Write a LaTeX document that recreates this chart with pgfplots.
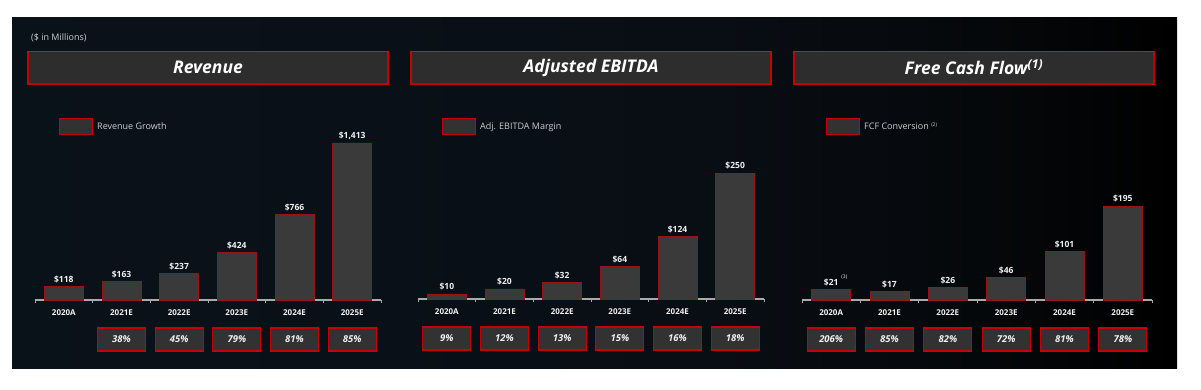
\documentclass[border=0pt]{standalone}
\usepackage{pgfplots}
\pgfplotsset{compat=1.18}
\usepackage{fontspec}
\setmainfont{Open Sans}
\definecolor{barfill}{RGB}{58,58,58}
\definecolor{barred}{RGB}{150,20,20}
\definecolor{boxred}{RGB}{200,0,0}
\definecolor{boxfill}{RGB}{50,50,50}
\definecolor{titlefill}{RGB}{45,45,45}
\definecolor{axisgray}{RGB}{170,170,170}
\definecolor{txt}{RGB}{240,240,240}
\definecolor{legtxt}{RGB}{205,205,205}
\pgfdeclarehorizontalshading{bgshade}{100bp}{rgb(0bp)=(0.04,0.07,0.1); rgb(25bp)=(0.04,0.07,0.1); rgb(55bp)=(0.035,0.055,0.08); rgb(67bp)=(0.02,0.03,0.04); rgb(75bp)=(0,0,0); rgb(100bp)=(0,0,0)}
\pgfplotsset{
  panel/.style={
    scale only axis, anchor=south west,
    xmin=-0.5, xmax=5.5, ymin=0,
    axis x line=bottom, axis y line=none,
    axis line style={axisgray, line width=1.2pt, -},
    xtick={0,...,5},
    xticklabels={2020A,2021E,2022E,2023E,2024E,2025E},
    minor xtick={-0.5,0.5,...,5.5},
    major tick length=0pt, minor tick length=3pt, tick align=outside,
    minor x tick style={axisgray, line width=1pt},
    xticklabel style={font=\bfseries\fontsize{8}{9}\selectfont, text=txt, anchor=center, yshift=-13pt},
    clip=false,
    legend style={at={(axis description cs:0,0)}, anchor=west, xshift=24pt,
      draw=none, fill=none, text=legtxt, font=\fontsize{9}{11}\selectfont,
      inner sep=0pt, column sep=2pt},
    legend cell align=left,
    legend image code/.code={\draw[fill=boxfill, draw=boxred, line width=1pt] (0pt,-7.5pt) rectangle (33pt,7.5pt);},
  },
  bars/.style={ybar, bar width=39pt, fill=barfill, draw=barred, line width=0.8pt,
    nodes near coords, point meta=explicit symbolic, forget plot,
    nodes near coords style={font=\bfseries\fontsize{8.5}{10}\selectfont, text=txt}},
  pct/.style={draw=none, mark=none, nodes near coords, point meta=explicit symbolic,
    nodes near coords style={anchor=center, yshift=-39.5pt, draw=boxred, fill=boxfill,
      line width=1.2pt, minimum width=48pt, minimum height=23pt, inner sep=0pt,
      font=\bfseries\itshape\fontsize{9.5}{11}\selectfont, text=txt}},
}
\begin{document}
\begin{tikzpicture}[x=1pt,y=1pt]
\fill[white] (0,0) rectangle (1201,389);
\shade[shading=bgshade] (12,21) rectangle (1177,371);
\node[anchor=west, inner sep=0pt, font=\fontsize{9}{11}\selectfont, text=legtxt] at (31,351) {(\$ in Millions)};
% title boxes
\foreach \cx/\ttl in {208/{Revenue}, 591/{Adjusted EBITDA}, 974/{Free Cash Flow\textsuperscript{(1)}}}{
  \fill[titlefill] (\cx-180,305) rectangle (\cx+180,338);
  \draw[boxred, line width=1.1pt] (\cx-180,338) -- (\cx-180,305) -- (\cx+180,305) -- (\cx+180,338);
  \draw[gray!60!black, line width=0.8pt] (\cx-180,338) -- (\cx+180,338);
  \node[text=white, font=\bfseries\itshape\fontsize{17.5}{19}\selectfont] at (\cx,321.5) {\ttl};
}
% Revenue
\begin{axis}[panel, at={(35pt,89pt)}, width=346pt, height=157pt, ymax=1413,
  legend style={yshift=173.5pt}]
\addplot[bars] coordinates {(0,118) [\$118] (1,163) [\$163] (2,237) [\$237] (3,424) [\$424] (4,766) [\$766] (5,1413) [\$1,413]};
\addplot[pct] coordinates {(1,0) [38\%] (2,0) [45\%] (3,0) [79\%] (4,0) [81\%] (5,0) [85\%]};
\addlegendentry{Revenue Growth}
\end{axis}
% Adjusted EBITDA
\begin{axis}[panel, at={(418pt,90pt)}, width=346pt, height=126pt, ymax=250,
  legend style={yshift=172.5pt}]
\addplot[bars] coordinates {(0,10) [\$10] (1,20) [\$20] (2,32) [\$32] (3,64) [\$64] (4,124) [\$124] (5,250) [\$250]};
\addplot[pct] coordinates {(0,0) [9\%] (1,0) [12\%] (2,0) [13\%] (3,0) [15\%] (4,0) [16\%] (5,0) [18\%]};
\addlegendentry{Adj. EBITDA Margin}
\end{axis}
% Free Cash Flow
\begin{axis}[panel, at={(802pt,89pt)}, width=350pt, height=94pt, ymax=195,
  legend style={yshift=173.5pt}]
\addplot[bars] coordinates {(0,21) [\$21\rlap{\hspace{3pt}\raisebox{7pt}{\fontsize{5}{6}\selectfont\mdseries(3)}}] (1,17) [\$17] (2,26) [\$26] (3,46) [\$46] (4,101) [\$101] (5,195) [\$195]};
\addplot[pct] coordinates {(0,0) [206\%] (1,0) [85\%] (2,0) [82\%] (3,0) [72\%] (4,0) [81\%] (5,0) [78\%]};
\addlegendentry{FCF Conversion \raisebox{3pt}{\fontsize{5}{6}\selectfont(2)}}
\end{axis}
\end{tikzpicture}
\end{document}
